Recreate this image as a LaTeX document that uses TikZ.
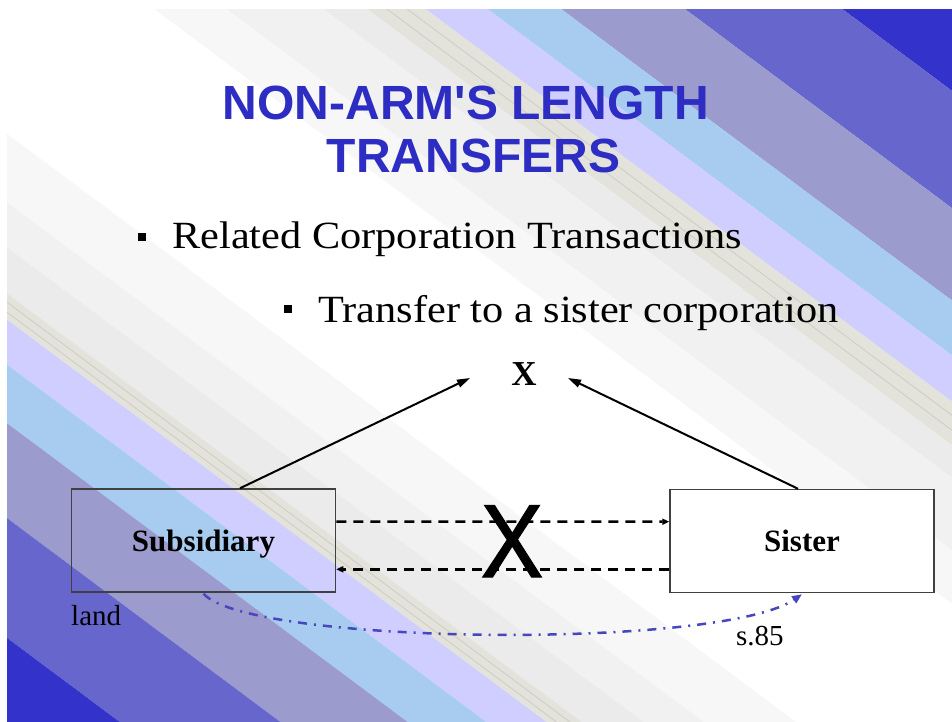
\documentclass[tikz,border=0pt]{standalone}
\usepackage{fontspec}
\setmainfont{Liberation Serif}
\newfontfamily\arialfont{Liberation Sans}
\newfontfamily\stretchserif[FakeStretch=1.1]{Liberation Serif}
\newfontfamily\narrowsans[FakeStretch=0.9,FakeBold=1.2]{Liberation Sans}
\usetikzlibrary{arrows.meta,calc}
\definecolor{titleblue}{RGB}{45,45,195}
\definecolor{bdark}{RGB}{51,51,204}
\definecolor{bmed}{RGB}{102,102,204}
\definecolor{bgrey}{RGB}{155,155,205}
\definecolor{blight}{RGB}{168,204,240}
\definecolor{blav}{RGB}{208,206,255}
\definecolor{gA}{RGB}{247,247,247}
\definecolor{gB}{RGB}{241,241,241}
\definecolor{gC}{RGB}{235,235,235}
\definecolor{gD}{RGB}{227,227,220}
\definecolor{gline}{RGB}{205,205,198}
\definecolor{curveblue}{RGB}{70,70,190}
\definecolor{boxline}{RGB}{64,64,64}
\newcommand\band[3]{\fill[#1] (-2000,#2) -- (2000,#2) -- (2000,#3) -- (-2000,#3) -- cycle;}
\newcommand\bandline[1]{\draw[gline, line width=0.8pt] (-2000,#1) -- (2000,#1);}
\begin{document}
\begin{tikzpicture}[x=1pt,y=-1pt,
  every node/.style={inner sep=0pt},
  titletext/.style={font=\arialfont\bfseries\fontsize{48}{52}\selectfont, text=titleblue, anchor=base},
  bullettext/.style={font=\stretchserif\fontsize{38.5}{44}\selectfont, anchor=base west},
  bulletsq/.style={fill=black, minimum size=8pt},
  corpbox/.style={draw=boxline, line width=1.5pt, minimum width=264pt, minimum height=103pt,
    font=\bfseries\fontsize{31}{36}\selectfont, text height=21pt, text depth=0pt},
  smalllabel/.style={font=\fontsize{29}{34}\selectfont, anchor=base west},
  solidarrow/.style={line width=2pt, -{Triangle[length=13pt,width=8pt]}},
  dasharrow/.style={line width=2.5pt, dash pattern=on 10pt off 7pt, -{Triangle[length=7pt,width=6pt]}},
  curvearrow/.style={draw=curveblue, line width=2.5pt, dash pattern=on 9pt off 7pt on 2pt off 7pt,
    -{Triangle[length=10pt,width=8pt]}}
]
\useasboundingbox (0,0) rectangle (952,722);
\fill[white] (0,0) rectangle (952,722);
\begin{scope}
\clip (7,10) rectangle (952,722);
\begin{scope}[x={(0.802pt,-0.598pt)}, y={(-0.598pt,-0.802pt)}]
  % top-right bands
  \band{bdark}{-1500}{-496}
  \band{bmed}{-496}{-402}
  \band{bgrey}{-402}{-328}
  \band{blight}{-328}{-284}
  \band{blav}{-284}{-247}
  \band{gD}{-247}{-212}
  \band{gC}{-212}{-186}
  \band{gB}{-186}{-161}
  \band{gB}{-161}{-128}
  \band{gA}{-128}{-85}
  \bandline{-236}
  \bandline{-224}
  % bottom-left bands
  \band{gA}{103}{158}
  \band{gB}{158}{194}
  \band{gC}{194}{231}
  \band{gD}{231}{252}
  \bandline{238}
  \bandline{246}
  \band{blav}{252}{288}
  \band{blight}{288}{335}
  \band{bgrey}{335}{411}
  \band{bmed}{411}{507}
  \band{bdark}{507}{1500}
\end{scope}
\end{scope}

% title
\node[titletext] (t1) at (466,120) {NON-ARM\textquotesingle S LENGTH};
\node[titletext] (t2) at (473.5,172) {TRANSFERS};

% bullets
\node[bulletsq] (b1) at (141.5,237) {};
\node[bullettext] (l1) at (172,248) {Related Corporation Transactions};
\node[bulletsq] (b2) at (288,309) {};
\node[bullettext] (l2) at (318,322) {Transfer to a sister corporation};

% top X
\node[font=\bfseries\fontsize{35}{40}\selectfont, anchor=base] (xt) at (524,385) {X};

% boxes
\node[corpbox] (sub) at (203.5,540.5) {Subsidiary};
\node[corpbox, fill=white] (sis) at (802,541) {Sister};

% arrows to X
\draw[solidarrow] ($(sub.north)+(36.5,0)$) -- ($(xt.base)+(-54,-7)$);
\draw[solidarrow] ($(sis.north)+(-4,0)$) -- ($(xt.base)+(44,-7)$);

% dashed transfers
\draw[dasharrow] ($(sub.east)+(0,-19)$) -- ($(sis.west)+(0,-19.3)$);
\draw[dasharrow] ($(sis.west)+(0,28.3)$) -- ($(sub.east)+(0,28.8)$);

% big X
\node[font=\narrowsans\fontsize{104}{110}\selectfont, anchor=base] (bigx) at (512,577) {X};

% s.85 curve
\draw[curvearrow] ($(sub.south)+(0,1)$) .. controls (250,645) and (720,650) .. ($(sis.south)+(0,1)$);

% labels
\node[smalllabel] (land) at (71,625) {land};
\node[smalllabel] (s85) at (736,645) {s.85};
\end{tikzpicture}
\end{document}
